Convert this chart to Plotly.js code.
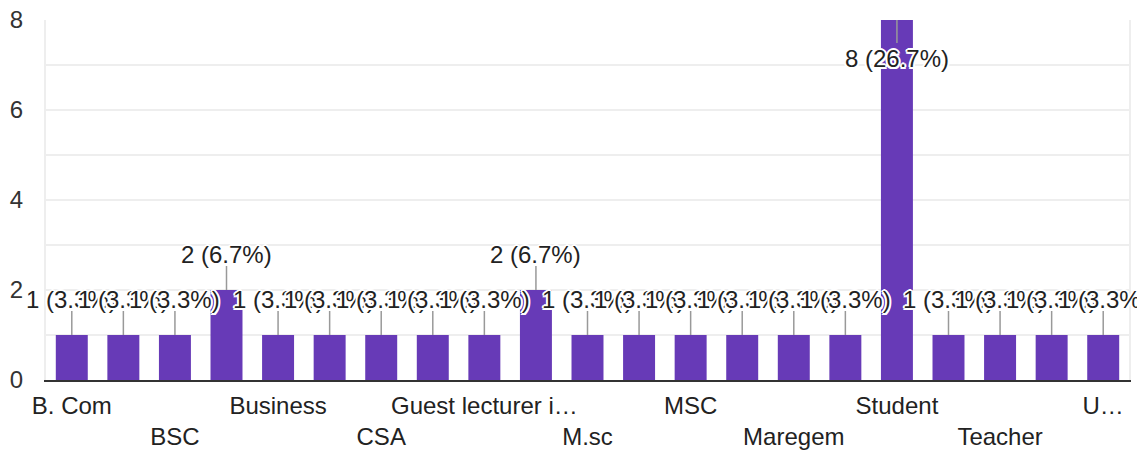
<!DOCTYPE html>
<html>
<head>
<meta charset="utf-8">
<script src="https://cdn.plot.ly/plotly-3.0.1.min.js"></script>
<style>html,body{margin:0;padding:0;background:#fff;}#chart{width:1137px;height:451px;}</style>
</head>
<body>
<div id="chart"></div>
<script>
// Category labels as shown (hidden labels could not be read and are left blank)
var categories = ["B. Com", "", "BSC", "", "Business", "", "CSA", "", "Guest lecturer i\u2026", "", "M.sc", "", "MSC", "", "Maregem", "", "Student", "", "Teacher", "", "U\u2026"];
var counts = [1, 1, 1, 2, 1, 1, 1, 1, 1, 2, 1, 1, 1, 1, 1, 1, 8, 1, 1, 1, 1];
var yTickVals = [0, 2, 4, 6, 8];

var total = counts.reduce(function (a, b) { return a + b; }, 0);
var yMax = 8;
var xs = counts.map(function (_, i) { return i; });

var shownIdx = [];
categories.forEach(function (c, i) { if (c) shownIdx.push(i); });
var ticktext = categories.map(function (c, i) {
  if (!c) return "";
  var k = shownIdx.indexOf(i);
  return (k % 2 === 1) ? " <br>" + c : c;
});

var halo = "2px 0 0 #fff, -2px 0 0 #fff, 0 2px 0 #fff, 0 -2px 0 #fff, 1.5px 1.5px 0 #fff, -1.5px -1.5px 0 #fff, 1.5px -1.5px 0 #fff, -1.5px 1.5px 0 #fff";
var FONT = "Arial, 'Liberation Sans', sans-serif";

var annotations = [];
var shapes = [];
counts.forEach(function (v, i) {
  var pct = (v / total * 100).toFixed(1);
  var below = v >= yMax * 0.9;
  shapes.push({
    type: "line", layer: "above",
    xref: "x", x0: i, x1: i,
    yref: "y", ysizemode: "pixel", yanchor: v,
    y0: 0, y1: below ? -23 : 24,
    line: { color: "#999999", width: 1.5 }
  });
  annotations.push({
    x: i, y: v, xref: "x", yref: "y",
    text: v + " (" + pct + "%)",
    showarrow: false, xanchor: "center", yanchor: "middle",
    yshift: below ? -38 : 36,
    font: { family: FONT, size: 24, color: "#222222", shadow: halo }
  });
});

var trace = {
  type: "bar",
  x: xs,
  y: counts,
  marker: { color: "#673ab7" },
  hoverinfo: "none"
};

var layout = {
  width: 1137, height: 451,
  margin: { l: 46, r: 8, t: 20, b: 71 },
  paper_bgcolor: "#fff", plot_bgcolor: "#fff",
  bargap: 0.38,
  showlegend: false,
  font: { family: FONT, size: 24, color: "#333333" },
  xaxis: {
    range: [-0.5, counts.length - 0.5],
    tickmode: "array", tickvals: xs, ticktext: ticktext,
    tickangle: 0,
    ticks: "", showgrid: false, zeroline: false,
    showline: true, linecolor: "#333333", linewidth: 2,
    tickfont: { family: FONT, size: 24, color: "#222222" },
    ticklabelstandoff: 3,
    fixedrange: true
  },
  yaxis: {
    range: [0, yMax],
    tickmode: "array", tickvals: yTickVals,
    ticks: "", showgrid: true, gridcolor: "#eeeeee", gridwidth: 2,
    minor: { dtick: 1, tick0: 0, showgrid: true, gridcolor: "#eeeeee", gridwidth: 2, ticks: "" },
    zeroline: false,
    showline: true, linecolor: "#eeeeee", linewidth: 2, mirror: true,
    tickfont: { family: FONT, size: 24, color: "#333333" },
    ticklabelstandoff: 16,
    fixedrange: true
  },
  shapes: shapes,
  annotations: annotations
};

Plotly.newPlot("chart", [trace], layout, { displayModeBar: false, staticPlot: true });
</script>
</body>
</html>
